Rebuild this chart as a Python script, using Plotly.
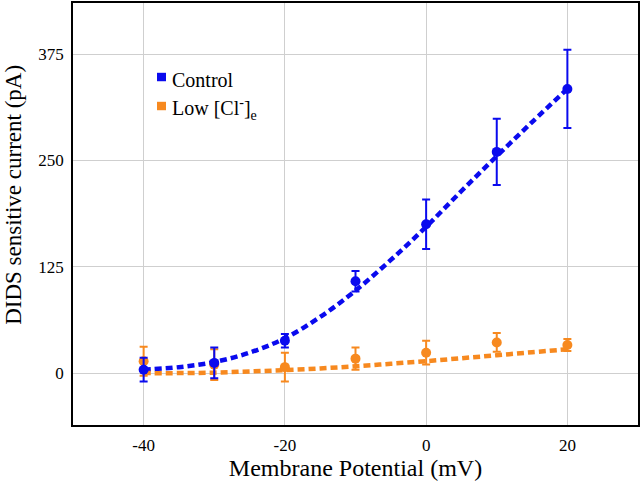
import plotly.graph_objects as go

# Measured data (membrane potential, mV)
voltages = [-40, -30, -20, -10, 0, 10, 20]
control_mean = [4, 12, 38, 108, 175, 260, 334]
control_err = [14, 18, 8, 12, 29, 39, 46]
lowcl_mean = [14, 10, 7, 17, 24, 36, 33]
lowcl_err = [17, 18, 17, 13, 14, 11, 7]

# Fitted curves
fit_x = [-40, -35, -30, -25, -20, -15, -10, -5, 0, 5, 10, 15, 20]
control_fit = [4, 7, 13, 24, 41, 66, 97, 133, 172, 214, 255, 295, 334]
lowcl_fit = [0, 0, 0.5, 2, 3.5, 5.5, 8, 11, 14, 17.5, 21, 24.5, 28]

x_ticks = [-40, -20, 0, 20]
x_ticktext = ["-40", "-20", "0", "20"]
y_ticks = [0, 125, 250, 375]
y_ticktext = ["0", "125", "250", "375"]

legend_names = ["Control", "Low [Cl<sup>-</sup>]<sub>e</sub>"]

BLUE = "#0a0aee"
ORANGE = "#f7891f"
FONT = "Liberation Serif"

fig = go.Figure()

fig.add_trace(go.Scatter(x=fit_x, y=control_fit, mode="lines",
                         line=dict(color=BLUE, width=4.5, dash="7px,4px", shape="spline"),
                         showlegend=False, hoverinfo="skip"))
fig.add_trace(go.Scatter(x=fit_x, y=lowcl_fit, mode="lines",
                         line=dict(color=ORANGE, width=4.5, dash="7px,4px", shape="spline"),
                         showlegend=False, hoverinfo="skip"))

fig.add_trace(go.Scatter(x=voltages, y=lowcl_mean, mode="markers", name=legend_names[1],
                         marker=dict(color=ORANGE, size=10),
                         error_y=dict(type="data", array=lowcl_err, color=ORANGE,
                                      thickness=2, width=4),
                         showlegend=False))
fig.add_trace(go.Scatter(x=voltages, y=control_mean, mode="markers", name=legend_names[0],
                         marker=dict(color=BLUE, size=10),
                         error_y=dict(type="data", array=control_err, color=BLUE,
                                      thickness=2, width=4),
                         showlegend=False))

# Manual legend (square swatches + text) placed in paper coordinates
legend_rows = [(0.8246, BLUE, legend_names[0]), (0.7559, ORANGE, legend_names[1])]
for yc, col, txt in legend_rows:
    fig.add_shape(type="rect", xref="paper", yref="paper",
                  x0=0.1487, x1=0.1646, y0=yc - 0.0100, y1=yc + 0.0100,
                  fillcolor=col, line=dict(width=0))
    fig.add_annotation(xref="paper", yref="paper", x=0.1720, y=yc - 0.008,
                       xanchor="left", yanchor="middle", showarrow=False,
                       text=txt, font=dict(family=FONT, size=20, color="black"))

# y-axis title as annotation (sits slightly above the axis centre in the reference)
fig.add_annotation(xref="paper", yref="paper", x=-0.1065, y=0.545,
                   xanchor="center", yanchor="middle", textangle=-90, showarrow=False,
                   text="DIDS sensitive current (pA)",
                   font=dict(family=FONT, size=23, color="black"))

axis_common = dict(
    showgrid=True, gridcolor="#cfcfcf", gridwidth=1,
    showline=True, linecolor="black", linewidth=1.5, mirror=True,
    zeroline=False, ticks="", tickfont=dict(family=FONT, size=17, color="black"),
)

fig.update_xaxes(range=[-50, 30], tickvals=x_ticks, ticktext=x_ticktext,
                 ticklabelstandoff=4,
                 title_text="Membrane Potential (mV)", title_standoff=0,
                 title_font=dict(family=FONT, size=24, color="black"), **axis_common)
fig.update_yaxes(range=[-61, 435], tickvals=y_ticks, ticktext=y_ticktext,
                 ticklabelstandoff=4, **axis_common)

fig.update_layout(
    width=640, height=481,
    margin=dict(l=73, r=2, t=3, b=56, autoexpand=False),
    paper_bgcolor="white", plot_bgcolor="white",
    showlegend=False,
    font=dict(family=FONT),
)

fig.write_html("out.html", config={"displayModeBar": False},
               post_script="document.body.style.margin='0px';")
